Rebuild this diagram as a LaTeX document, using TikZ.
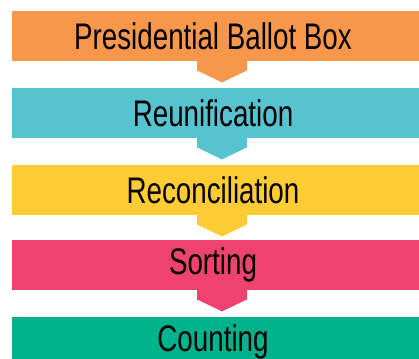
\documentclass[tikz,border=0pt]{standalone}
\usepackage{fontspec}
\setmainfont{Liberation Sans}[FakeStretch=0.75]
\definecolor{cOrange}{RGB}{247,151,75}
\definecolor{cTeal}{RGB}{86,196,208}
\definecolor{cYellow}{RGB}{255,204,51}
\definecolor{cPink}{RGB}{239,66,110}
\definecolor{cGreen}{RGB}{0,179,140}
\begin{document}
\begin{tikzpicture}[x=1pt,y=1pt,
  bar/.style={rectangle, inner sep=0pt, minimum width=420pt, minimum height=50pt, anchor=north west},
  lbl/.style={inner sep=0pt, text=black, font=\fontsize{37}{40}\selectfont},
]
\clip (0,0) rectangle (419,-358);
\foreach \i/\y/\c/\t in {1/11/cOrange/Presidential Ballot Box, 2/88/cTeal/Reunification, 3/165/cYellow/Reconciliation, 4/240/cPink/Sorting, 5/317/cGreen/Counting}{
  \node[bar, fill=\c] (b\i) at (12,-\y) {};
  \node[lbl] (t\i) at (213,-\y-25) {\t};
}
\foreach \i/\c in {1/cOrange, 2/cTeal, 3/cYellow, 4/cPink}{
  \coordinate (k\i) at (222,0 |- b\i.south);
  \fill[\c] ([xshift=-25pt,yshift=1pt]k\i) -- ([xshift=-25pt,yshift=-9pt]k\i) -- ([yshift=-21pt]k\i) -- ([xshift=25pt,yshift=-9pt]k\i) -- ([xshift=25pt,yshift=1pt]k\i) -- cycle;
}
\end{tikzpicture}
\end{document}
